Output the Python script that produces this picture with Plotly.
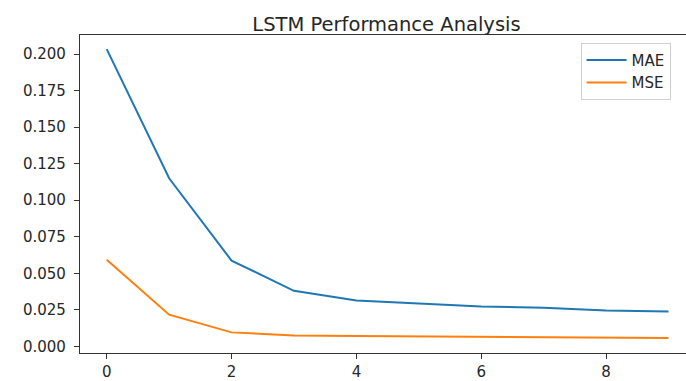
import plotly.graph_objects as go

epochs = [0, 1, 2, 3, 4, 5, 6, 7, 8, 9]
mae = [0.2033, 0.1150, 0.0587, 0.0380, 0.0314, 0.0296, 0.0273, 0.0264, 0.0246, 0.0239]
mse = [0.0592, 0.0217, 0.0096, 0.0075, 0.0072, 0.0070, 0.0067, 0.0063, 0.0059, 0.0057]
series_names = ["MAE", "MSE"]
colors = ["#1f77b4", "#ff7f0e"]
y_ticks = [0.0, 0.025, 0.05, 0.075, 0.1, 0.125, 0.15, 0.175, 0.2]
x_ticks = [0, 2, 4, 6, 8]

fig = go.Figure()
for name, vals, c in zip(series_names, [mae, mse], colors):
    fig.add_trace(go.Scatter(x=epochs, y=vals, mode="lines", name=name,
                             line=dict(color=c, width=2)))

font = dict(family="DejaVu Sans", size=15, color="#262626")
fig.update_layout(
    width=686, height=381,
    margin=dict(l=80, r=0, t=35, b=28),
    paper_bgcolor="white", plot_bgcolor="white",
    font=font,
    title=dict(text="LSTM Performance Analysis", x=(386.5 / 686), xanchor="center",
               xref="container", yref="paper", y=1, yanchor="bottom",
               pad=dict(b=4), font=dict(family="DejaVu Sans", size=19.5, color="#262626")),
    showlegend=True,
    legend=dict(x=0.826, y=0.976, xanchor="left", yanchor="top",
                bgcolor="white", bordercolor="#d0d0d0", borderwidth=1,
                font=dict(family="DejaVu Sans", size=15, color="#262626"),
                itemwidth=40, tracegroupgap=0),
)
fig.update_xaxes(range=[-0.428, 9.28], tickvals=x_ticks, ticktext=[str(v) for v in x_ticks],
                 showgrid=False, zeroline=False, showline=True, linecolor="#333333",
                 linewidth=1.2, mirror=True, ticks="outside", ticklen=5, tickcolor="#333333",
                 tickfont=font)
fig.update_yaxes(range=[-0.0045, 0.213], tickvals=y_ticks,
                 ticktext=[f"{v:.3f}" for v in y_ticks],
                 showgrid=False, zeroline=False, showline=True, linecolor="#333333",
                 linewidth=1.2, ticks="outside", ticklen=5, tickcolor="#333333",
                 ticklabelstandoff=5, tickfont=font)

fig.write_html("out.html")
